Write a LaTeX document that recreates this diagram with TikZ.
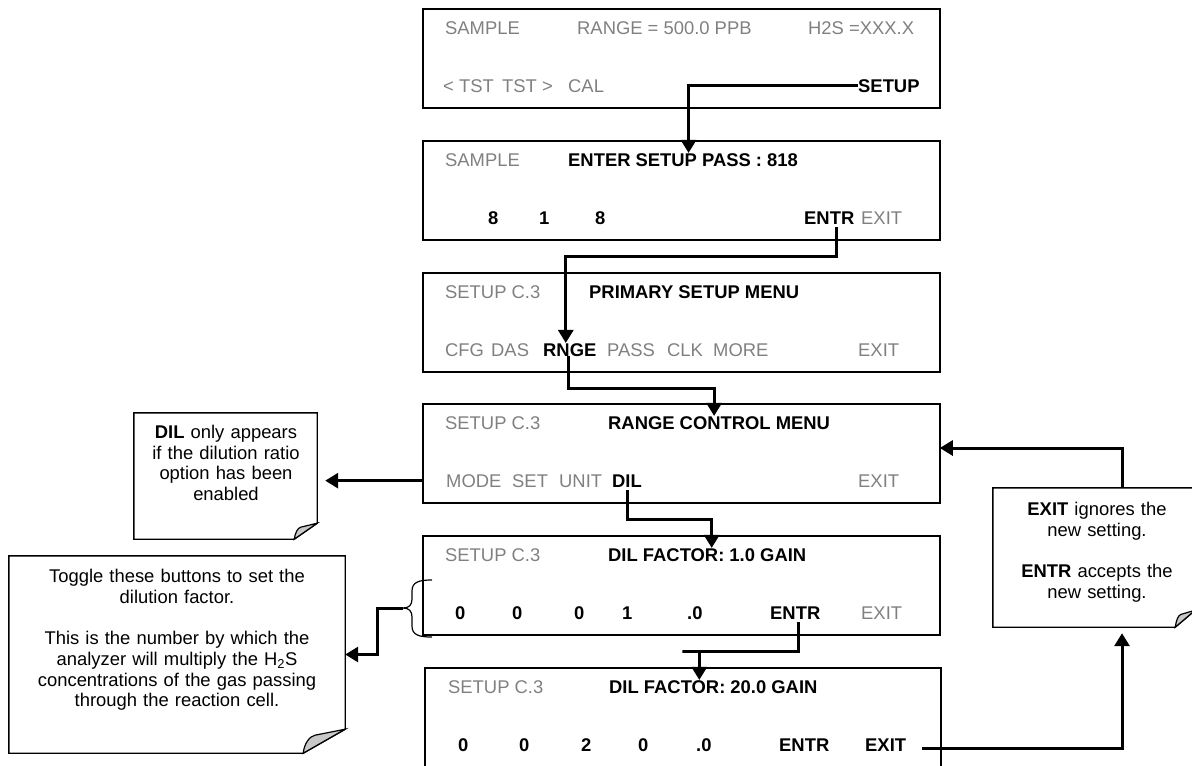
\documentclass[tikz,border=0pt]{standalone}
\usepackage{fontspec}
\setmainfont{Liberation Sans}
\usetikzlibrary{arrows.meta,calc,positioning}
\definecolor{lcdgray}{RGB}{128,128,128}
\definecolor{foldgray}{RGB}{200,200,200}
\newcommand{\lcdfont}{\fontsize{18.4}{20.7}\selectfont}
\tikzset{
  screen/.style={draw, line width=1.6pt, minimum width=517pt, minimum height=99pt, inner sep=0pt},
  soft/.style={anchor=base west, inner sep=0pt, text=lcdgray, font=\lcdfont},
  hard/.style={anchor=base west, inner sep=0pt, font=\lcdfont\bfseries},
  notetext/.style={anchor=north, inner sep=0pt, align=center, text width=#1, font=\lcdfont},
  flow/.style={line width=3pt, -{Triangle[length=13pt,width=15pt]}},
}
\newcommand{\foldnote}[3]{%
  \draw[line width=1.4pt] (#1.north west) -- (#1.north east) -- ($(#1.south east)+(0,-#3)$) -- ($(#1.south east)+(-#2,0)$) -- (#1.south west) -- cycle;
  \filldraw[line width=1.2pt, fill=foldgray] ($(#1.south east)+(-#2,0)$) .. controls ($(#1.south east)+(-#2+1,-0.4*#3)$) and ($(#1.south east)+(-0.85*#2,-0.7*#3)$) .. ($(#1.south east)+(-0.72*#2,-0.75*#3)$) -- ($(#1.south east)+(0,-#3)$) -- cycle;
}
\begin{document}
\begin{tikzpicture}[x=1pt, y=-1pt]
\useasboundingbox (0,0) rectangle (1192,766);

\node[screen] (s1) at (681.5,58.5) {};
\node[screen] (s2) at (681.5,190.5) {};
\node[screen] (s3) at (681.5,322.5) {};
\node[screen] (s4) at (681.5,453.5) {};
\node[screen] (s5) at (681.5,585.5) {};
\node[screen, minimum width=516pt] (s6) at (683,717.5) {};

\node[soft] (sample1) at (445,34) {SAMPLE};
\node[soft] (range1) at (577,34) {RANGE = 500.0 PPB};
\node[soft] (conc1) at (808,34) {H2S =XXX.X};
\node[soft] (tstl) at (443,92) {< TST};
\node[soft] (tstr) at (502,92) {TST >};
\node[soft] (cal1) at (568,92) {CAL};
\node[hard] (setup) at (858,92) {SETUP};

\node[soft] (sample2) at (445,166) {SAMPLE};
\node[hard] (pass) at (568,166) {ENTER SETUP PASS : 818};
\foreach \x/\d [count=\i] in {488/8,539/1,595/8}
  \node[hard] (pw\i) at (\x,224) {\d};
\node[hard] (entr2) at (804,224) {ENTR};
\node[soft] (exit2) at (861,224) {EXIT};

\node[soft] (setup3) at (445,298) {SETUP C.3};
\node[hard] (primary) at (589,298) {PRIMARY SETUP MENU};
\foreach \x/\t in {445/CFG,491/DAS,607/PASS,667/CLK,713/MORE,858/EXIT}
  \node[soft] (m3\t) at (\x,356) {\t};
\node[hard] (rnge) at (543,356) {RNGE};

\node[soft] (setup4) at (445,429) {SETUP C.3};
\node[hard] (rangemenu) at (608,429) {RANGE CONTROL MENU};
\foreach \x/\t in {446/MODE,512/SET,559/UNIT,858/EXIT}
  \node[soft] (m4\t) at (\x,487) {\t};
\node[hard] (dil) at (612,487) {DIL};

\node[soft] (setup5) at (445,561) {SETUP C.3};
\node[hard] (gain5) at (608,561) {DIL FACTOR: 1.0 GAIN};
\foreach \x/\d [count=\i] in {455/0,512/0,574/0,622/1,687/.0}
  \node[hard] (d5\i) at (\x,619) {\d};
\node[hard] (entr5) at (770,619) {ENTR};
\node[soft] (exit5) at (861,619) {EXIT};

\node[soft] (setup6) at (448,693) {SETUP C.3};
\node[hard] (gain6) at (609,693) {DIL FACTOR: 20.0 GAIN};
\foreach \x/\d [count=\i] in {458/0,519/0,581/2,638/0,696/.0}
  \node[hard] (d6\i) at (\x,751) {\d};
\node[hard] (entr6) at (779,751) {ENTR};
\node[hard] (exit6) at (865,751) {EXIT};

\node[minimum width=183pt, minimum height=126pt, inner sep=0pt] (dilnote) at (225.5,476) {};
\node[notetext=175pt] (diltext) at (226,425)
{\textbf{DIL} only appears\\if the dilution ratio\\option has been\\enabled};
\foldnote{dilnote}{23}{16}

\node[minimum width=336pt, minimum height=197pt, inner sep=0pt] (togglenote) at (177,654.5) {};
\node[notetext=325pt] (toggletext) at (177,569)
{Toggle these buttons to set the\\dilution factor.\\[20.7pt]This is the number by which the\\analyzer will multiply the H\textsubscript{2}S\\concentrations of the gas passing\\through the reaction cell.};
\foldnote{togglenote}{42}{24}

\node[minimum width=202pt, minimum height=139pt, inner sep=0pt] (exitnote) at (1094,557.5) {};
\node[notetext=195pt] (exittext) at (1097,502)
{\textbf{EXIT} ignores the\\new setting.\\[20.7pt]\textbf{ENTR} accepts the\\new setting.};
\foldnote{exitnote}{20}{17}

\coordinate (bt) at (403,608);
\draw[line width=1.2pt] (432,580) .. controls (419,580) and (412,582) .. (412,591) -- (412,599)
  .. controls (412,605) and (409,608) .. (bt) .. controls (409,608) and (412,611) .. (412,617)
  -- (412,626) .. controls (412,635) and (419,637) .. (432,637);

\draw[flow] (setup.west) -| ([xshift=5.5pt]pass.north);
\draw[flow] ([xshift=7pt,yshift=-3pt]entr2.south) |- ($(s2.south)!.5!(s3.north)$) -| ([xshift=-4pt]rnge.north);
\draw[flow] ([xshift=-1.5pt]rnge.south) |- ($(s3.south)!.5!(s4.north)$) -| ([xshift=-5pt]rangemenu.north);
\draw[flow] ([yshift=-3pt]dil.south) |- ($(s4.south)!.5!(s5.north)$) -| ([xshift=4.5pt]gain5.north);
\draw[flow] ([xshift=3pt,yshift=-3pt]entr5.south) |- ($(s5.south)!.5!(s6.north)$) -| ([xshift=-14pt]gain6.north);
\draw[flow] (s4.west |- m4MODE.west) -- ($(dilnote.east |- m4MODE.west)+(8,0)$);
\draw[flow] (bt) -- ++(-26,0) |- (togglenote.east);
\draw[flow] ($(exit6.east)+(16,4)$) -| ($(exitnote.south)+(28,6)$);
\draw[flow] ($(exitnote.north)+(28,0)$) |- ($(s4.east)+(-1,-5.5)$);
\end{tikzpicture}
\end{document}
